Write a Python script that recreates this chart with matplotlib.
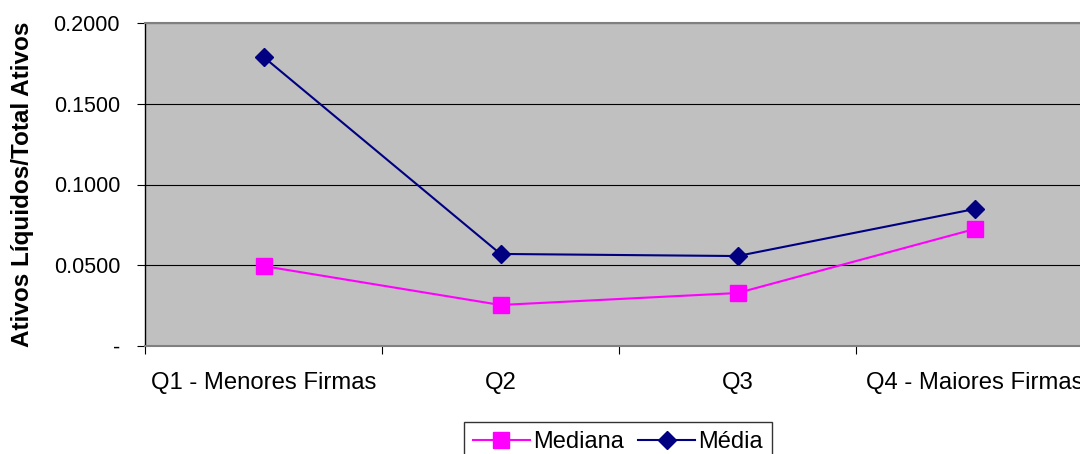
import numpy as np
import matplotlib.pyplot as plt

# Data
categories = ['Q1 - Menores Firmas', 'Q2', 'Q3', 'Q4 - Maiores Firmas']
mediana = [0.0495, 0.0254, 0.0328, 0.0724]
media = [0.1790, 0.0570, 0.0557, 0.0848]
y_ticks = [0.0, 0.05, 0.10, 0.15, 0.20]
y_tick_labels = ['-', '0.0500', '0.1000', '0.1500', '0.2000']

plt.rcParams['font.family'] = ['Liberation Sans', 'DejaVu Sans']

fig = plt.figure(figsize=(10.8, 4.54), dpi=100)
ax = fig.add_axes([145 / 1080, 1 - 346 / 454, 948 / 1080, 323 / 454])
ax.set_facecolor('#C0C0C0')

x = np.arange(len(categories))
ax.plot(x, mediana, color='#FF00FF', lw=1.5, marker='s', ms=11, label='Mediana', zorder=3)
ax.plot(x, media, color='#000080', lw=1.5, marker='D', ms=9.5, label='Média', zorder=3)

ax.set_xlim(-0.5, len(categories) - 0.5)
ax.set_ylim(0, 0.2)
ax.set_yticks(y_ticks)
ax.set_yticklabels(y_tick_labels, fontsize=15.5)
ax.yaxis.grid(True, color='black', lw=0.8)
ax.set_axisbelow(True)

# category labels at centers, ticks at boundaries
ax.set_xticks(x)
ax.set_xticklabels(categories, fontsize=17.2)
ax.tick_params(axis='x', length=0, pad=19)
ax.set_xticks(np.arange(-0.5, len(categories) + 0.5, 1), minor=True)
ax.tick_params(axis='x', which='minor', length=6, width=0.8, color='black', direction='out')
ax.tick_params(axis='y', length=6, width=0.8, direction='out', pad=12)

ax.set_ylabel('Ativos Líquidos/Total Ativos', fontsize=17.5, fontweight='bold')
ax.yaxis.set_label_coords(-0.117, 0.5)

for s in ['top', 'bottom', 'right']:
    ax.spines[s].set_color('#808080')
    ax.spines[s].set_linewidth(1.5)
ax.spines['left'].set_color('black')
ax.spines['left'].set_linewidth(1)

leg = fig.legend(loc='upper center', bbox_to_anchor=(618 / 1080, 1 - 422 / 454), ncol=2,
                 fontsize=17, frameon=True, fancybox=False, edgecolor='black',
                 borderaxespad=0, handlelength=2.4, handletextpad=0.15,
                 columnspacing=0.6, borderpad=0.4)
leg.get_frame().set_linewidth(1)

fig.savefig('out.png', dpi=100)
